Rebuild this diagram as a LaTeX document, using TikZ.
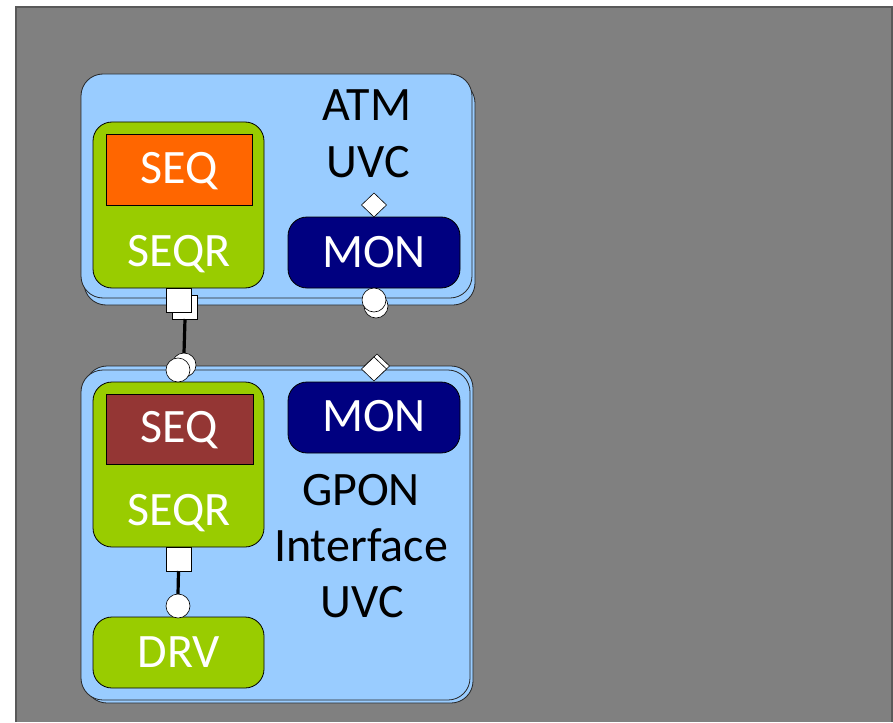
\documentclass[tikz,border=0pt]{standalone}
\usepackage{fontspec}
\setmainfont{Carlito}
\usetikzlibrary{shapes.geometric}
\definecolor{bgray}{HTML}{808080}
\definecolor{lblue}{HTML}{99CCFF}
\definecolor{lgreen}{HTML}{99CC00}
\definecolor{navyc}{HTML}{000080}
\definecolor{orng}{HTML}{FF6600}
\definecolor{brwn}{HTML}{943634}
\begin{document}
\begin{tikzpicture}[x=1pt,y=-1pt,
  outerbox/.style={draw=black!85, fill=lblue, rounded corners=22pt, line width=0.8pt, inner sep=0pt, outer sep=0pt},
  innerbox/.style={draw=black, rounded corners=19pt, line width=0.8pt, inner sep=0pt, outer sep=0pt},
  seqbox/.style={draw=black, line width=0.6pt, inner sep=0pt, outer sep=0pt},
  txtw/.style={text=white, font=\fontsize{48}{58}\selectfont, anchor=base, inner sep=0pt},
  txtb/.style={text=black, font=\fontsize{48}{58}\selectfont, anchor=base, inner sep=0pt},
  sqport/.style={draw=black, fill=white, line width=0.6pt, minimum width=25pt, minimum height=24pt, inner sep=0pt, outer sep=0pt},
  ciport/.style={circle, draw=black, fill=white, line width=0.6pt, minimum size=24pt, inner sep=0pt, outer sep=0pt},
  diport/.style={diamond, draw=black, fill=white, line width=0.6pt, minimum width=25pt, minimum height=24pt, inner sep=0pt, outer sep=0pt},
  conn/.style={draw=black, line width=3.2pt}]
\useasboundingbox (0,0) rectangle (893,722);
% background
\fill[bgray] (16,7) rectangle (893,722);
\draw[black!65, line width=1.2pt] (16,722) -- (16,7) -- (892,7) -- (892,722);

% ---------- top (ATM) UVC ----------
\node[outerbox, minimum width=391pt, minimum height=224pt] (atmback) at (279.5,193) {};
\node[outerbox, minimum width=391pt, minimum height=224pt] (atm) at (276.5,186) {};
\node[innerbox, fill=lgreen, minimum width=171pt, minimum height=166pt] (seqr1) at (178.5,205) {};
\node[seqbox, fill=orng, minimum width=146pt, minimum height=71pt] (seq1) at (179,169.5) {};
\node[txtw] (seq1t) at (179,183) {SEQ};
\node[txtw] (seqr1t) at (179,266) {SEQR};
\node[innerbox, fill=navyc, minimum width=172pt, minimum height=71pt] (mon1) at (374,252.5) {};
\node[txtw] (mon1t) at (374,267) {MON};
\node[txtb] (atmt) at (367,121) {ATM};
\node[txtb] (uvc1t) at (368,177) {UVC};
\node[diport] (d0) at (374,205) {};

% ---------- bottom (GPON) UVC ----------
\node[outerbox, minimum width=388pt, minimum height=337pt] (gponback) at (279,534.5) {};
\node[outerbox, minimum width=389pt, minimum height=330pt] (gpon) at (275.5,535) {};
\node[innerbox, fill=lgreen, minimum width=171pt, minimum height=165pt] (seqr2) at (178.5,464.5) {};
\node[seqbox, fill=brwn, minimum width=147pt, minimum height=70pt] (seq2) at (179.5,429) {};
\node[txtw] (seq2t) at (179,442) {SEQ};
\node[txtw] (seqr2t) at (179,525) {SEQR};
\node[innerbox, fill=navyc, minimum width=172pt, minimum height=71pt] (mon2) at (374,417.5) {};
\node[txtw] (mon2t) at (374,431) {MON};
\node[innerbox, fill=lgreen, minimum width=171pt, minimum height=71pt] (drv) at (178.5,652.5) {};
\node[txtw] (drvt) at (179,667) {DRV};
\node[txtb] (gpont) at (361,505) {GPON};
\node[txtb] (ifct) at (361,561) {Interface};
\node[txtb] (uvc2t) at (362,617) {UVC};

% ---------- ports ----------
\node[sqport] (sq1b) at (185,307) {};
\node[sqport] (sq1) at (178.5,300) {};
\node[ciport] (c1b) at (184,365) {};
\node[ciport] (c1) at (178,370) {};
\draw[conn] (sq1b.south) -- (c1b.north);

\node[ciport] (mc1b) at (376,306) {};
\node[ciport] (mc1) at (374,300) {};

\node[diport] (d1b) at (377,366) {};
\node[diport] (d1) at (374,369) {};

\node[sqport] (sq2) at (178.5,559) {};
\node[ciport] (c2) at (178,606) {};
\draw[conn] (sq2.south) -- (c2.north);
\end{tikzpicture}
\end{document}
